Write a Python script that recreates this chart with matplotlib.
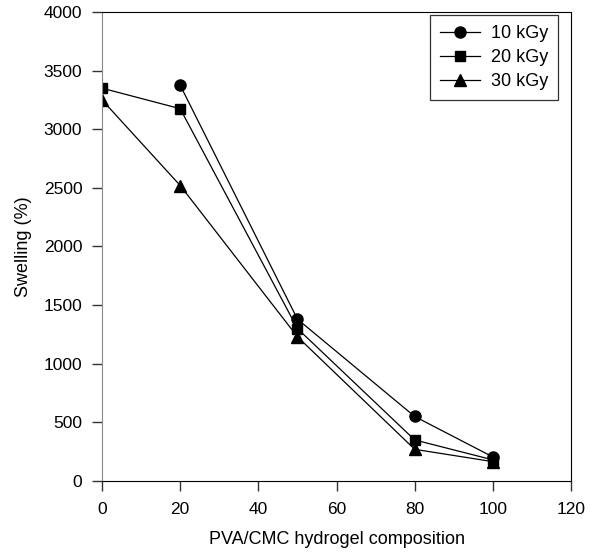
import numpy as np
import matplotlib.pyplot as plt

plt.rcParams['font.family'] = ['Liberation Sans', 'DejaVu Sans']

# Swelling data
X_10 = [20, 50, 80, 100]
Y_10 = [3375, 1380, 550, 205]

X_20 = [0, 20, 50, 80, 100]
Y_20 = [3350, 3175, 1300, 350, 180]

X_30 = [0, 20, 50, 80, 100]
Y_30 = [3250, 2520, 1230, 270, 165]

fig = plt.figure(figsize=(5.97, 5.54), dpi=100)
ax = fig.add_axes([0.1709, 0.1318, 0.7856, 0.8466])

ax.plot(X_10, Y_10, color='black', lw=0.9, marker='o', ms=8, label='10 kGy')
ax.plot(X_20, Y_20, color='black', lw=0.9, marker='s', ms=7.5, label='20 kGy')
ax.plot(X_30, Y_30, color='black', lw=0.9, marker='^', ms=8.5, label='30 kGy')

ax.set_xlim(0, 120)
ax.set_ylim(0, 4000)
ax.set_xticks(np.arange(0, 121, 20))
ax.set_yticks(np.arange(0, 4001, 500))
ax.tick_params(labelsize=12.5, length=7.2, width=1, color='#333333')
ax.tick_params(axis='x', pad=8)
ax.tick_params(axis='y', pad=7)

ax.spines['left'].set_color('#888888')
for s in ['top', 'right', 'bottom']:
    ax.spines[s].set_color('black')

ax.set_xlabel('PVA/CMC hydrogel composition', fontsize=13, labelpad=10)
ax.set_ylabel('Swelling (%)', fontsize=13, labelpad=8)

leg = ax.legend(loc='upper right', bbox_to_anchor=(0.9723, 0.9936),
                borderaxespad=0, fontsize=13, handlelength=2.2,
                handletextpad=0.6, frameon=True, fancybox=False,
                borderpad=0.55, labelspacing=0.4)
leg.get_frame().set_edgecolor('black')
leg.get_frame().set_linewidth(0.9)

fig.savefig('out.png', dpi=100)
